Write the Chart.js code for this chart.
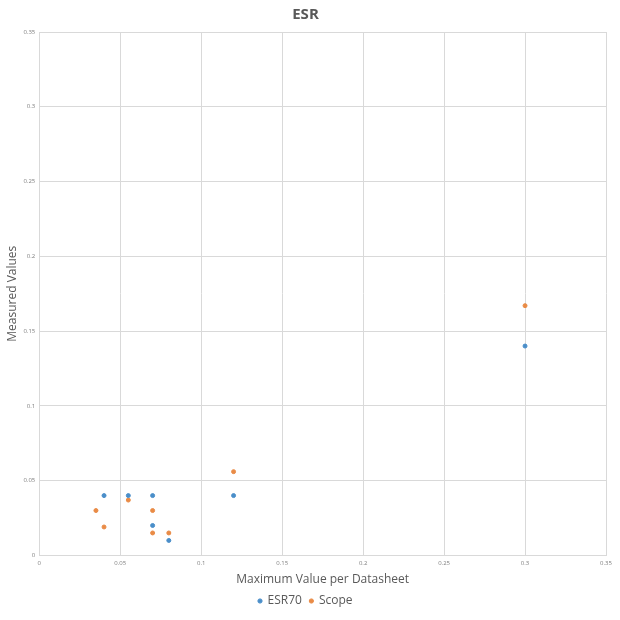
<!DOCTYPE html>
<html lang="en">
<head>
    <meta charset="UTF-8">
    <title>ESR</title>
    <script src="https://cdn.jsdelivr.net/npm/chart.js@4.4.0/dist/chart.umd.min.js"></script>
    <style>
        html, body { margin: 0; padding: 0; background: #fff; }
        #wrap { width: 620px; height: 620px; }
    </style>
</head>
<body>
<div id="wrap"><canvas id="myChart"></canvas></div>

<script>
    // values
    var esr70X = [0.04, 0.055, 0.07, 0.07, 0.08, 0.12, 0.3];
    var esr70Y = [0.04, 0.04, 0.04, 0.02, 0.01, 0.04, 0.14];
    var scopeX = [0.035, 0.04, 0.055, 0.07, 0.07, 0.08, 0.12, 0.3];
    var scopeY = [0.03, 0.019, 0.037, 0.03, 0.015, 0.015, 0.056, 0.167];
    var seriesNames = ['ESR70', 'Scope'];
    var axisMin = 0, axisMax = 0.35, axisStep = 0.05;

    function toPoints(xs, ys) {
        return xs.map(function (x, i) { return { x: x, y: ys[i] }; });
    }

    var font = "'Open Sans', 'Noto Sans', sans-serif";
    var grey = '#595959';
    var gridColor = '#d9d9d9';

    var ctx = document.getElementById('myChart').getContext('2d');
    var chart = new Chart(ctx, {
        type: 'scatter',
        data: {
            datasets: [{
                label: seriesNames[0],
                data: toPoints(esr70X, esr70Y),
                backgroundColor: '#4a8ec9',
                borderColor: '#4a8ec9',
                pointRadius: 2,
                pointHoverRadius: 2
            }, {
                label: seriesNames[1],
                data: toPoints(scopeX, scopeY),
                backgroundColor: '#e98b46',
                borderColor: '#e98b46',
                pointRadius: 2,
                pointHoverRadius: 2
            }]
        },
        options: {
            responsive: true,
            maintainAspectRatio: false,
            animation: false,
            layout: { padding: { left: 5, right: 14, top: 6, bottom: 3 } },
            plugins: {
                title: {
                    display: true,
                    text: 'ESR',
                    color: grey,
                    font: { family: font, size: 15, weight: 'bold' },
                    padding: { top: 0, bottom: 8 }
                },
                legend: {
                    position: 'bottom',
                    labels: {
                        usePointStyle: true,
                        pointStyle: 'circle',
                        boxWidth: 3,
                        boxHeight: 3,
                        color: grey,
                        padding: 8,
                        font: { family: font, size: 12 }
                    }
                },
                tooltip: { enabled: false }
            },
            scales: {
                x: {
                    type: 'linear',
                    min: axisMin,
                    max: axisMax,
                    ticks: {
                        stepSize: axisStep,
                        color: '#7f7f7f',
                        font: { family: font, size: 6 },
                        padding: 4,
                        callback: function (v) { return +v.toFixed(2); }
                    },
                    grid: { color: gridColor, drawTicks: false },
                    border: { color: gridColor },
                    title: {
                        display: true,
                        text: 'Maximum Value per Datasheet',
                        color: grey,
                        font: { family: font, size: 12 },
                        padding: { top: 2, bottom: 0 }
                    }
                },
                y: {
                    type: 'linear',
                    min: axisMin,
                    max: axisMax,
                    ticks: {
                        stepSize: axisStep,
                        color: '#7f7f7f',
                        font: { family: font, size: 6 },
                        padding: 4,
                        callback: function (v) { return +v.toFixed(2); }
                    },
                    grid: { color: gridColor, drawTicks: false },
                    border: { color: gridColor },
                    title: {
                        display: true,
                        text: 'Measured Values',
                        color: grey,
                        font: { family: font, size: 12 },
                        padding: { top: 0, bottom: 0 }
                    }
                }
            }
        }
    });
</script>
</body>
</html>
